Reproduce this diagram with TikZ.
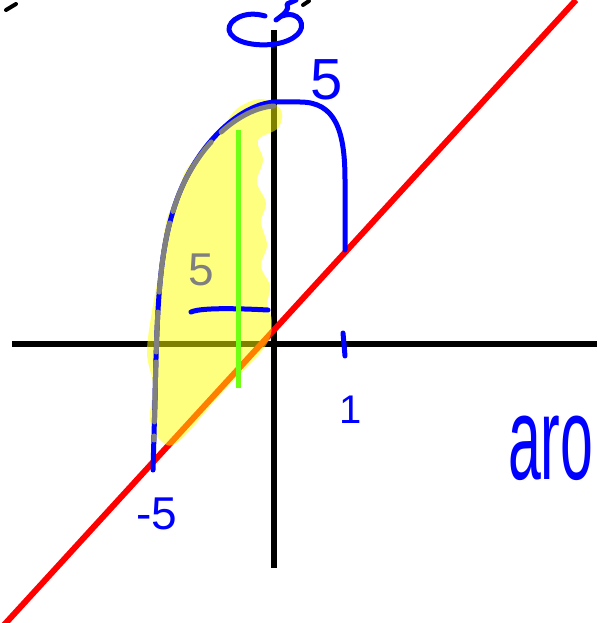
\documentclass[tikz,border=0pt]{standalone}
\usepackage{fontspec}
\setmainfont{Liberation Sans}
\definecolor{penblue}{RGB}{0,0,255}
\definecolor{penred}{RGB}{255,0,0}
\definecolor{pengray}{RGB}{128,128,128}
\definecolor{pengreen}{RGB}{110,255,20}
\definecolor{hiyellow}{RGB}{255,255,0}
\begin{document}
\begin{tikzpicture}[x=1pt,y=-1pt,
  axis/.style={line width=5.5pt,black},
  bluepen/.style={line width=5pt,penblue,line cap=round,line join=round},
  graypen/.style={line width=5pt,pengray,line cap=round},
  bluetext/.style={text=penblue,inner sep=0pt},
]
\useasboundingbox (0,0) rectangle (597,623);
\fill[white] (0,0) rectangle (597,623);
% stray marks at top
\draw[line width=4pt,line cap=round] (6,10) -- (16,4);
\draw[line width=4pt,line cap=round] (303,5) -- (309,1);
% axes
\draw[axis] (12,344) -- (597,344);
\draw[axis] (274,30) -- (274,568);
% red line
\begin{scope}
\clip (0,0) rectangle (597,623);
\draw[line width=6pt,penred] (4,625) -- (576,0);
\end{scope}
% yellow highlight
\fill[hiyellow,opacity=0.5] plot[smooth cycle,tension=0.6] coordinates {
 (238,108) (262,99) (281,110) (278,128) (258,140) (263,160) (257,182) (266,203)
 (261,222) (267,245) (261,266) (270,286) (267,305) (272,322) (264,348)
 (220,395) (178,442) (160,440) (150,420) (153,385) (147,352) (153,305)
 (160,268) (163,240) (168,215) (178,195) (186,170) (205,150) (222,128)};
% blue curve
\draw[bluepen] (153,470) -- (155,400) .. controls (157,300) and (160,250) .. (175,205)
  .. controls (195,145) and (240,104) .. (275,102) -- (300,102)
  .. controls (335,102) and (345,130) .. (345,180) -- (345,250);
% gray overlay
\draw[graypen,dash pattern=on 60pt off 14pt on 80pt off 12pt on 70pt off 20pt on 40pt off 10pt]
  (274,106) .. controls (240,108) and (195,145) .. (175,205)
  .. controls (160,250) and (157,300) .. (155,400) -- (154,440);
% blue horizontal tick and x tick
\draw[bluepen] (191,312) .. controls (200,308) and (230,308) .. (268,310);
\draw[bluepen] (343,333) -- (345,356);
% rotation symbol
\draw[bluepen] (265,16) .. controls (245,10) and (228,20) .. (229,30)
  .. controls (231,42) and (255,47) .. (275,44)
  .. controls (295,41) and (306,30) .. (300,20)
  .. controls (297,15) and (290,13) .. (282,16);
\draw[bluepen] (276,20) .. controls (284,14) and (290,10) .. (287,4) -- (296,0);
% green line
\draw[line width=5pt,pengreen] (238,130) -- (238,388);
% labels
\node[bluetext,font=\fontsize{58}{58}\selectfont] (top5) at (327,80) {5};
\node[text=pengray,inner sep=0pt,font=\fontsize{46}{46}\selectfont] (gray5) at (201,270) {5};
\node[bluetext,font=\fontsize{46}{46}\selectfont] (m5) at (157,514) {-5};
\node[bluetext,font=\fontsize{40}{40}\selectfont] (one) at (351,410) {1};
\node[bluetext,anchor=west,xscale=0.5,font=\fontsize{118}{118}\selectfont] (aro) at (508,448) {aro};
\end{tikzpicture}
\end{document}
